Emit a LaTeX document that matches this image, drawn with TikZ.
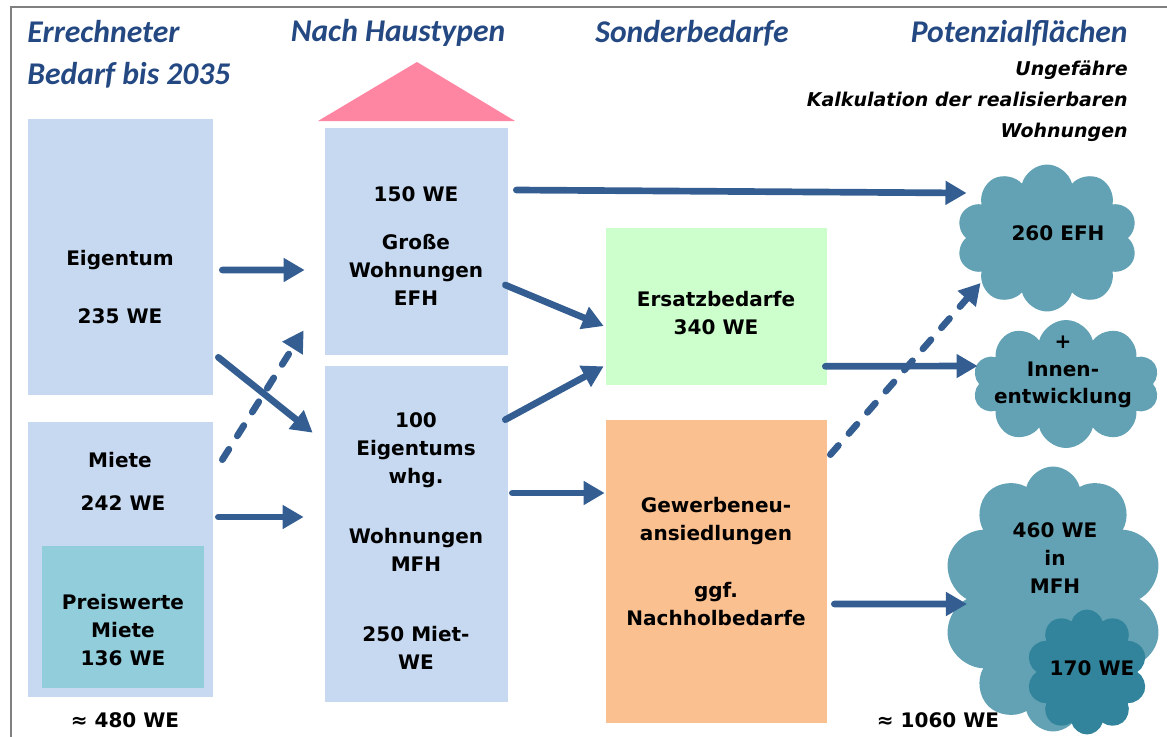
\documentclass[tikz,border=0pt]{standalone}
\usepackage{fontspec}
\setmainfont{DejaVu Sans}
\newfontfamily\headfont{Carlito}
\usepackage{xcolor}
\usetikzlibrary{arrows.meta,positioning,calc,shapes.symbols}

\definecolor{headblue}{RGB}{36,72,130}
\definecolor{boxblue}{RGB}{198,217,241}
\definecolor{cheapblue}{RGB}{146,205,220}
\definecolor{roofpink}{RGB}{255,134,162}
\definecolor{replgreen}{RGB}{204,255,204}
\definecolor{bizorange}{RGB}{250,192,144}
\definecolor{cloudteal}{RGB}{98,162,180}
\definecolor{clouddark}{RGB}{49,132,155}
\definecolor{arrowblue}{RGB}{52,94,145}

\begin{document}
\begin{tikzpicture}[
  x=0.02cm, y=-0.02cm,
  every node/.style={font=\fontsize{11.4}{15.8}\selectfont\bfseries, align=center},
  head/.style={font=\headfont\fontsize{18}{24}\selectfont\bfseries\itshape, text=headblue, inner sep=0pt},
  sub/.style={font=\fontsize{10.8}{17.6}\selectfont\bfseries\itshape, align=right, inner sep=0pt},
  box/.style={rectangle, inner sep=0pt},
  leftbox/.style={box, fill=boxblue, minimum width=3.7cm},
  housebox/.style={box, fill=boxblue, minimum width=3.66cm},
  needbox/.style={box, minimum width=4.42cm},
  pot/.style={cloud, cloud puffs=10, cloud ignores aspect, fill=cloudteal, inner sep=0pt},
  arr/.style={-{Triangle[length=12pt,width=13pt]}, line width=3.8pt, line cap=round, draw=arrowblue},
  darr/.style={arr, dash pattern=on 7pt off 9pt},
]
  \useasboundingbox (0,0) rectangle (1167,737);
  \draw[gray, line width=1.2pt] (11,737) -- (11,7) -- (1167,7);

  % headers
  \node[head, anchor=west, align=left] (hbedarf) at (27,54) {Errechneter\\Bedarf bis 2035};
  \node[head] (hhaus) at (398,33) {Nach Haustypen};
  \node[head] (hsonder) at (692,33) {Sonderbedarfe};
  \node[head, anchor=east] (hpot) at (1128,33) {Potenzialflächen};
  \node[sub, anchor=east] (hkalk) at (1128,101) {Ungefähre\\Kalkulation der realisierbaren\\Wohnungen};

  % left column
  \node[leftbox, minimum height=5.52cm] (eig) at (120.5,257) {};
  \node[leftbox, minimum height=5.5cm] (miet) at (120.5,559.5) {};
  \node[box, fill=cheapblue, minimum width=3.24cm, minimum height=2.84cm] (preis) at (123,617) {};
  \node (teig) at (120,260) {Eigentum};
  \node (teigwe) at (120,316) {235 WE};
  \node (tmiet) at (120,460) {Miete};
  \node (tmietwe) at (123,503) {242 WE};
  \node (tpreis) at (123,630) {Preiswerte\\Miete\\136 WE};
  \node (tsum) at (125,720) {≈ 480 WE};

  % house
  \fill[roofpink] (318,121) -- (417,62) -- (515,121) -- cycle;
  \node[housebox, minimum height=4.54cm] (efh) at (416.5,241.5) {};
  \node[housebox, minimum height=6.72cm] (mfh) at (416.5,534) {};
  \node (tefhwe) at (416,194) {150 WE};
  \node (tefh) at (416,270) {Große\\Wohnungen\\EFH};
  \node (tetw) at (416,450) {100\\Eigentums\\whg.};
  \node (tmfh) at (416,550) {Wohnungen\\MFH};
  \node (tmietw) at (416,648) {250 Miet-\\WE};

  % special needs
  \node[needbox, fill=replgreen, minimum height=3.14cm] (ersatz) at (716.5,306.5) {};
  \node[needbox, fill=bizorange, minimum height=6.06cm] (gewerbe) at (716.5,571.5) {};
  \node (tersatz) at (716,313) {Ersatzbedarfe\\340 WE};
  \node (tgew) at (716,521) {Gewerbeneu-\\ansiedlungen};
  \node (tnach) at (716,604) {ggf.\\Nachholbedarfe};

  % potential areas
  \node[pot, minimum width=3.62cm, minimum height=2.94cm] (cl1) at (1047,238) {};
  \node[pot, minimum width=3.74cm, minimum height=2.56cm] (cl2) at (1066,384) {};
  \node[pot, minimum width=4.4cm, minimum height=5.3cm] (cl3) at (1053,599) {};
  \node[pot, fill=clouddark, minimum width=2.42cm, minimum height=2.5cm] (cl4) at (1087,672) {};
  \node (tcl1) at (1058,233) {260 EFH};
  \node (tcl2) at (1063,372) {+\\Innen-\\entwicklung};
  \node (tcl3) at (1055,558) {460 WE\\in\\MFH};
  \node (tcl4) at (1092,668) {170 WE};
  \node (tpot) at (938,720) {≈ 1060 WE};

  % connectors
  \draw[arr] ([shift={(9,13)}]eig.east) -- ([shift={(-20,28.5)}]efh.west);
  \draw[arr] ([shift={(5,-38)}]eig.south east) -- ([shift={(-12,67)}]mfh.north west);
  \draw[darr] ([shift={(9,38)}]miet.north east) -- ([shift={(-21,-25)}]efh.south west);
  \draw[arr] ([shift={(5,-42.5)}]miet.east) -- ([shift={(-21,-17)}]mfh.west);
  \draw[arr] ([shift={(8,-51.5)}]efh.east) -- ([shift={(1,-45)}]cl1.west);
  \draw[arr] ([shift={(-3,43.5)}]efh.east) -- ([shift={(-2,19.5)}]ersatz.west);
  \draw[arr] ([shift={(-3,54)}]mfh.north east) -- ([shift={(-2,-19)}]ersatz.south west);
  \draw[arr] ([shift={(4,-41)}]mfh.east) -- ([shift={(-1,-78.5)}]gewerbe.west);
  \draw[arr] ([shift={(-2,-19)}]ersatz.south east) -- ([shift={(-1,-18)}]cl2.west);
  \draw[darr] ([shift={(3,35)}]gewerbe.north east) -- ([shift={(15,45)}]cl1.west);
  \draw[arr] ([shift={(7,32.5)}]gewerbe.east) -- ([shift={(1,5)}]cl3.west);
\end{tikzpicture}
\end{document}
